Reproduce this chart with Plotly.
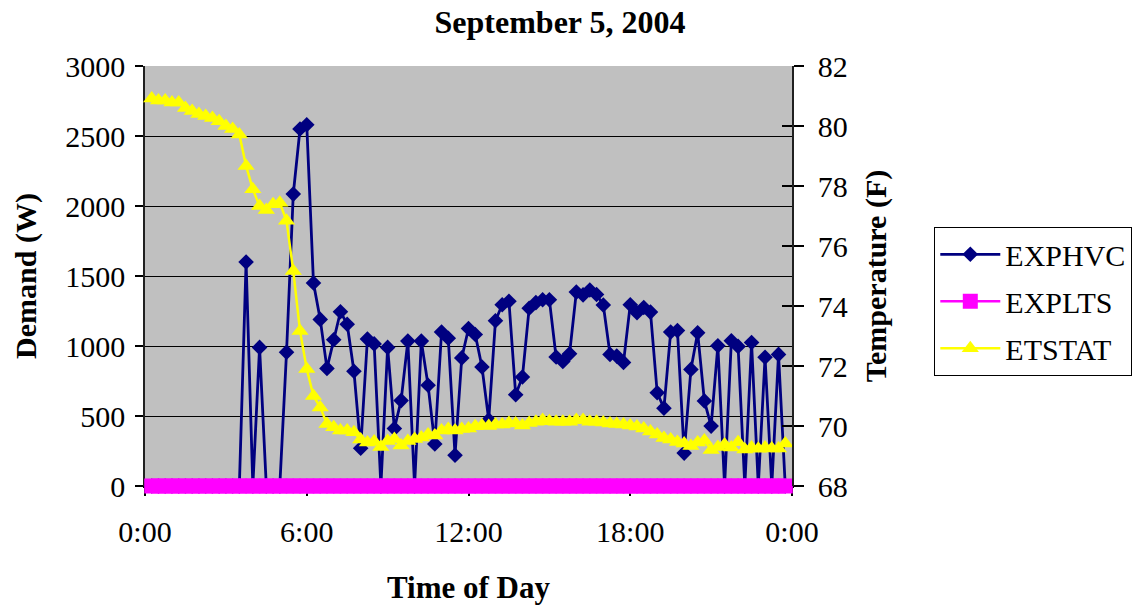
import plotly.graph_objects as go

# Time of day (hours), 15-minute readings from 0:15 to 23:45
hours = [i * 0.25 for i in range(1, 96)]

exphvc = [0, 0, 0, 0, 0, 0, 0, 0, 0, 0, 0, 0, 0, 0,
          1600, 0, 990, 0, 0, 0, 955, 2085, 2550, 2580, 1450,
          1190, 840, 1045, 1245, 1155, 820, 270, 1050, 1015, 0,
          990, 410, 610, 1035, 0, 1035, 720, 300, 1100, 1055,
          220, 915, 1125, 1082, 850, 472, 1180, 1295, 1320, 652,
          779, 1270, 1310, 1330, 1330, 921, 890, 945, 1385, 1365,
          1400, 1368, 1293, 940, 928, 883, 1295, 1237, 1275, 1242,
          666, 556, 1100, 1110, 235, 833, 1095, 608, 428, 1002,
          0, 1037, 997, 0, 1025, 0, 920, 0, 940, 0]

explts = [0] * 95

etstat = [80.92, 80.85, 80.85, 80.78, 80.78, 80.6, 80.5, 80.4, 80.33, 80.27,
          80.16, 80.0, 79.9, 79.72, 78.67, 77.89, 77.33, 77.2, 77.39, 77.44,
          76.84, 75.17, 73.17, 71.9, 71.0, 70.62, 70.07, 69.96, 69.85, 69.85,
          69.79, 69.55, 69.45, 69.48, 69.3, 69.5, 69.57, 69.35, 69.5, 69.57,
          69.62, 69.72, 69.68, 69.85, 69.9, 69.85, 69.9, 69.92, 69.99, 70.02,
          70.0, 70.05, 70.05, 70.1, 70.08, 70.02, 70.1, 70.14, 70.2, 70.16,
          70.14, 70.14, 70.14, 70.2, 70.2, 70.14, 70.14, 70.12, 70.08, 70.07,
          70.05, 70.02, 69.98, 69.92, 69.82, 69.72, 69.6, 69.55, 69.47, 69.42,
          69.33, 69.45, 69.52, 69.2, 69.3, 69.38, 69.28, 69.46, 69.22, 69.28,
          69.24, 69.28, 69.25, 69.25, 69.42]

x_tickvals = [0, 6, 12, 18, 24]
x_ticktext = ["0:00", "6:00", "12:00", "18:00", "0:00"]
y_tickvals = [0, 500, 1000, 1500, 2000, 2500, 3000]
y2_tickvals = [68, 70, 72, 74, 76, 78, 80, 82]

FONT = "Liberation Serif"
W, H = 1139, 605
L, R, T, B = 145, 792, 66, 486.5

fig = go.Figure()
fig.add_trace(go.Scatter(
    x=hours, y=exphvc, name="EXPHVC", mode="lines+markers", legendgroup="a",
    cliponaxis=False,
    line=dict(color="#000080", width=2.8),
    marker=dict(symbol="diamond", size=12, color="#000080")))
fig.add_trace(go.Scatter(
    x=hours, y=explts, name="EXPLTS", mode="lines+markers", legendgroup="b",
    cliponaxis=False,
    line=dict(color="#FF00FF", width=2.5),
    marker=dict(symbol="square", size=15, color="#FF00FF")))
fig.add_trace(go.Scatter(
    x=hours, y=etstat, name="ETSTAT", mode="lines+markers", legendgroup="c",
    yaxis="y2", cliponaxis=False,
    line=dict(color="#FFFF00", width=2.5),
    marker=dict(symbol="triangle-up", size=15, color="#FFFF00")))

fig.update_layout(
    width=W, height=H,
    margin=dict(l=L, r=W - R, t=T, b=H - B, pad=0, autoexpand=False),
    paper_bgcolor="white",
    plot_bgcolor="#C0C0C0",
    font=dict(family=FONT, size=30, color="black"),
    title=dict(text="<b>September 5, 2004</b>", x=560 / W, xref="container",
               xanchor="center", y=1 - 22 / H, yref="container", yanchor="middle",
               font=dict(family=FONT, size=32), automargin=False),
    showlegend=True,
    legend=dict(x=934 / W, xref="container", y=1 - 227 / H, yref="container",
                xanchor="left", yanchor="top",
                bgcolor="white", bordercolor="black", borderwidth=1.3,
                font=dict(family=FONT, size=30), tracegroupgap=5,
                itemwidth=60),
    xaxis=dict(range=[0, 24], tickvals=x_tickvals, ticktext=x_ticktext,
               showgrid=False, zeroline=False, showline=True, automargin=False,
               linecolor="black", linewidth=1.5, layer="below traces",
               ticks="outside", ticklen=8, tickcolor="black", tickwidth=1.5,
               ticklabelstandoff=10,
               title=dict(text="<b>Time of Day</b>", standoff=30,
                          font=dict(family=FONT, size=31))),
    yaxis=dict(range=[0, 3000], tickvals=y_tickvals, showgrid=True,
               gridcolor="black", gridwidth=1, zeroline=False, automargin=False,
               showline=True, linecolor="#202020", linewidth=1.5,
               layer="below traces",
               ticks="outside", ticklen=8, tickcolor="black", tickwidth=1.5,
               ticklabelstandoff=4,
               title=dict(text="<b>Demand (W)</b>", standoff=20,
                          font=dict(family=FONT, size=30))),
    yaxis2=dict(range=[68, 82], tickvals=y2_tickvals, overlaying="y",
                side="right", showgrid=False, zeroline=False, automargin=False,
                showline=True, linecolor="#202020", linewidth=1.5,
                ticks="outside", ticklen=10, tickcolor="black", tickwidth=1.5,
                ticklabelstandoff=8,
                title=dict(text="<b>Temperature (F)</b>", standoff=18,
                           font=dict(family=FONT, size=30))),
    yaxis3=dict(range=[68, 82], tickvals=y2_tickvals, overlaying="y",
                side="right", anchor="x", showgrid=False, zeroline=False,
                automargin=False,
                showticklabels=False, ticks="inside", ticklen=10,
                tickcolor="black", tickwidth=1.5, showline=False),
)

# invisible trace to activate the inside-tick overlay axis
fig.add_trace(go.Scatter(x=[None], y=[None], yaxis="y3", showlegend=False,
                         hoverinfo="skip"))

fig.write_html("out.html")
